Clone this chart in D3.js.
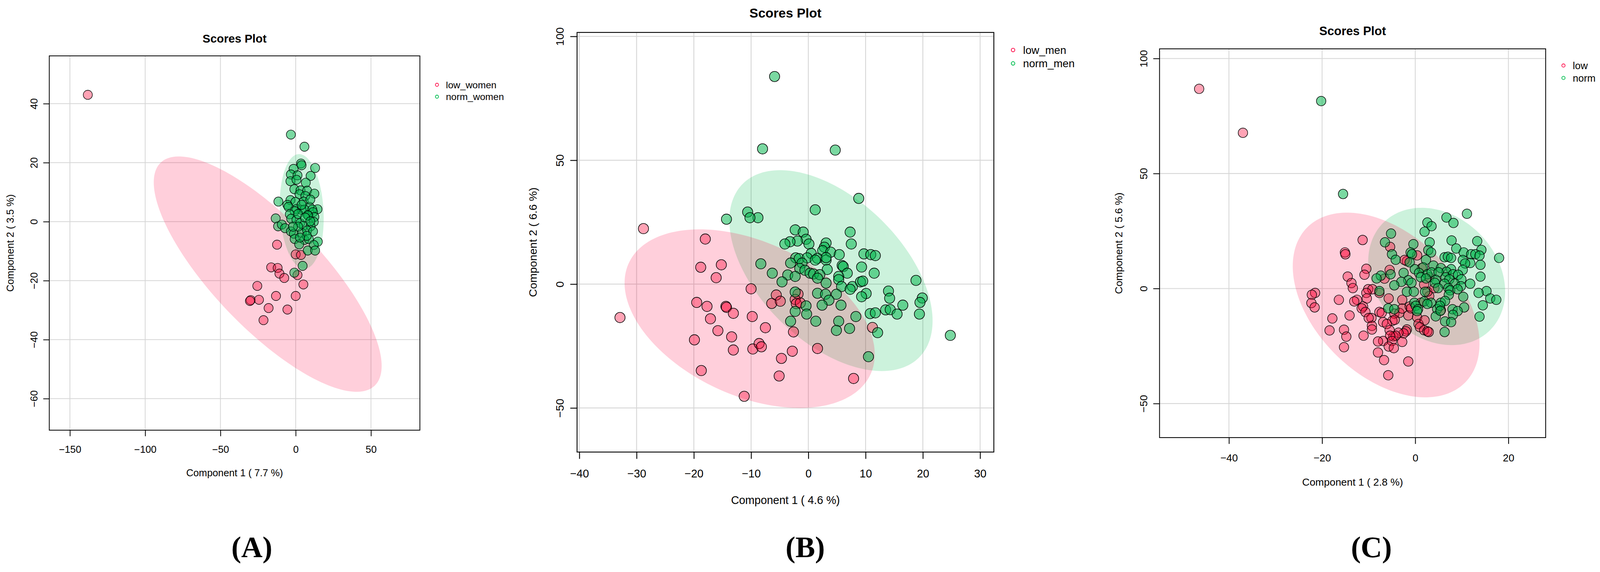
<!DOCTYPE html>
<html>
<head>
<meta charset="utf-8">
<script src="https://cdn.jsdelivr.net/npm/d3@7"></script>
<style>
  html, body { margin: 0; padding: 0; overflow: hidden; background: #fff; }
  svg { display: block; width: 100vw; height: 100vh; }
</style>
</head>
<body>
<svg id="chart" viewBox="0 0 4123 1464" preserveAspectRatio="none"></svg>
<script>
// ---- values ----
const lowWomen = [[-138.1,43.0],[-12.4,-7.8],[0,-11.1],[3.5,-11.3],[-16.3,-15.5],[-12,-15.7],[-10.8,-17.6],
  [-7.6,-19.1],[1.2,-18.1],[5.1,-21.3],[-25.5,-21.8],[-29.9,-26.6],[-30.4,-26.9],[-24.4,-26.5],[-13.1,-25.2],
  [0,-25.2],[-18,-29.3],[-5.5,-29.8],[-21.4,-33.4]];
const normWomen = [[-3.2,29.5],[5.8,25.4],[3.5,19.7],[3.9,19.1],[12.9,18.2],[-1.4,17.9],[-3.2,16],[1.2,15.7],
  [9.9,15.5],[-3.5,13.7],[0.5,14.2],[6.7,13.2],[-0.9,11],[3.2,10.6],[7.6,10.5],[12.4,9.5],[2.5,9.3],[6.4,8.7],
  [-11.5,6.8],[-3.5,7.3],[-0.2,6.7],[5.3,6.8],[-5.5,5.7],[-4.8,5],[9.2,5],[14.5,4.2],[0.5,4.3],[3.9,4],[5.8,4.1],
  [-0.7,3.5],[11,4.1],[11.5,3.2],[-3.9,2.5],[8.5,2],[12.4,1.6],[-13.3,1.1],[-3,1],[0.5,0.6],[8,2.2],[12,-0.1],
  [-11.7,-1.6],[-9.2,-1],[-7.1,-2.2],[3,-0.5],[5.3,-1.4],[9.9,-1.6],[-3.2,-3.3],[-1.2,-4.1],[4.1,-3.8],[7.6,-3],
  [11.5,-3.3],[-0.7,-5.9],[5.8,-6.2],[8.7,-5.9],[14.7,-6.8],[2.3,-7.7],[12,-7.9],[8,-9.8],[12.9,-9.8],[4.6,-15],
  [-0.9,-17.3],[1.6,2.6],[6.2,1.4],[9.7,0.1],[1.6,-1.7],[7.4,-4.8],[2.8,-5.4],[-1.8,-1.7],[3.9,5.7],[9.7,7.5]];

const lowMen = [[-28.8,22.4],[-32.9,-13.5],[-18.0,18.2],[-18.8,6.8],[-15.2,7.8],[-16.1,2.6],[-10.0,-1.9],
  [-19.5,-7.4],[-17.7,-9.0],[-14.4,-9.0],[-14.3,-9.4],[-13.1,-11.8],[-9.8,-13.1],[-17.1,-14.0],[-15.8,-18.8],
  [-19.9,-22.5],[-13.4,-21.3],[-13.1,-26.6],[-9.7,-26.2],[-8.6,-24.0],[-8.2,-25.3],[-7.5,-17.6],[-5.6,-4.4],
  [-6.4,-7.8],[-4.9,-6.9],[-1.8,-4.0],[-2.3,-6.2],[-2.1,-7.9],[-1.4,-7.6],[-2.6,-19.3],[-2.8,-27.1],[-4.7,-30.0],
  [-5.1,-37.1],[-11.2,-45.3],[-18.7,-34.9],[1.6,-26.0],[11.2,-17.5],[7.9,-38.1]];
const normMen = [[-5.9,83.8],[-8.0,54.6],[4.7,54.1],[8.8,34.6],[1.2,30.0],[-10.6,29.1],[-8.8,26.8],[-10.2,26.8],
  [-14.3,26.2],[7.3,21.0],[-2.3,21.9],[-0.9,21.0],[-0.4,18.1],[-1.9,17.4],[-3.2,17.1],[-4.1,16.2],[0.1,16.2],
  [3.1,16.6],[7.5,16.2],[2.8,14.9],[2.5,13.5],[3.9,12.9],[5.4,11.9],[9.7,12.2],[10.9,11.9],[11.7,11.5],[0.5,12.4],
  [-2.2,10.6],[-1.6,10.3],[-0.2,10.6],[1.6,10.4],[1.2,9.7],[3.1,9.7],[3.1,10.7],[-1.1,8.5],[-3.1,8.5],[-8.3,8.2],
  [5.9,7.5],[6.1,7.1],[9.3,6.9],[-1.5,6.3],[-0.6,5.6],[3.3,5.9],[-6.3,4.4],[0.3,4.4],[0.9,4.1],[2.0,3.8],[-3.6,3.7],
  [6.8,4.4],[11.5,4.4],[-2.3,3.1],[1.6,2.4],[5.3,3.1],[5.3,1.8],[-4.6,0.9],[3.1,0.4],[5.8,-1.0],[7.7,-1.0],
  [7.3,-2.1],[9.1,0.9],[9.5,1.2],[18.8,1.5],[-2.3,-3.2],[1.6,-3.7],[3.0,-4.1],[4.9,-4.1],[10.1,-3.8],[9.3,-5.1],
  [14.0,-2.8],[14.2,-5.7],[19.9,-5.6],[19.5,-7.4],[3.6,-6.5],[-0.4,-8.8],[2.4,-8.5],[5.7,-8.5],[16.5,-8.5],
  [-2.3,-11.0],[-0.3,-12.1],[10.8,-11.9],[11.7,-11.6],[13.5,-10.4],[14.3,-10.3],[15.5,-12.1],[19.4,-12.1],
  [-3.1,-15.0],[1.3,-15.0],[5.3,-15.0],[8.3,-13.1],[4.9,-18.7],[7.2,-17.9],[12.1,-19.6],[24.8,-20.7],[10.5,-29.3]];

const lowAll = [[-46.4,86.8],[-37.0,67.7],[-11.3,21.1],[-15.1,15.7],[-15.0,14.9],[-5.4,18.1],[0.4,14.4],
  [-1.8,11.9],[-2.3,12.4],[-10.5,8.6],[-5.5,8.1],[-10.9,6.0],[-14.5,5.2],[-6.6,4.3],[-13.7,2.4],[-13.4,0.2],
  [-21.5,-1.9],[-22.2,-2.7],[-10.1,-0.3],[-9.2,-0.3],[-10.5,-1.9],[-7.7,-1.9],[-16.4,-4.9],[-22.3,-6.3],
  [-21.6,-8.2],[-12.5,-4.9],[-13.1,-5.6],[-10.4,-4.3],[-5.7,-4.3],[-2.8,-4.9],[-11.2,-7.8],[-11.5,-8.6],
  [-10.7,-10.2],[-14.1,-11.7],[-17.8,-13.0],[-9.4,-12.8],[-10.0,-12.8],[-7.7,-10.2],[-7.2,-10.6],[-4.5,-10.9],
  [-3.4,-10.6],[-1.5,-11.7],[-2.8,-8.7],[-9.3,-16.2],[-9.3,-17.8],[-6.9,-14.6],[-4.9,-14.0],[-4.4,-13.6],
  [-6.1,-15.4],[0.4,-12.5],[0.7,-15.4],[2.0,-13.8],[1.0,-16.8],[1.9,-18.1],[2.6,-18.6],[2.9,-18.9],[-1.8,-17.8],
  [-2.0,-18.6],[-2.5,-19.5],[-3.6,-19.2],[-4.7,-20.8],[-4.2,-20.5],[-5.5,-18.1],[-5.4,-20.5],[-2.8,-23.2],
  [-5.0,-22.8],[-6.9,-22.8],[-8.0,-23.0],[-5.7,-25.2],[-4.6,-25.9],[-15.3,-17.9],[-18.4,-18.2],[-14.8,-20.9],
  [-11.1,-20.5],[-15.3,-25.5],[-8.0,-27.8],[-6.7,-31.1],[-1.5,-31.7],[-5.8,-37.7],[-1.2,-7.8],[1.2,-6.2],
  [3.0,-3.3],[2.6,-1.4],[4.1,0.2],[1.9,1.7],[5.5,-9.4],[-0.9,-8.6],[1.4,8.9],[3.0,4.9]];
const normAll = [[-20.2,81.5],[-15.5,41.1],[11.1,32.5],[6.7,30.9],[8.2,28.5],[2.6,28.7],[3.5,27.1],[2.0,24.7],
  [-5.2,23.9],[-6.5,20.1],[7.8,20.9],[13.3,20.6],[3.1,20.1],[-0.4,19.3],[8.8,17.4],[14.2,16.8],[2.8,16.7],
  [3.4,15.7],[10.4,15.7],[12.0,14.9],[12.9,14.9],[-5.0,14.9],[-1.0,15.7],[-0.7,14.9],[18.0,13.3],[6.3,13.6],
  [7.0,13.8],[7.7,13.3],[10.2,12.4],[13.8,14.3],[-4.2,12.5],[2.3,12.5],[-1.2,11.4],[11.8,11.1],[14.0,10.3],
  [10.7,10.9],[3.9,10.0],[1.7,9.2],[5.5,8.9],[-0.1,8.4],[7.7,8.4],[10.2,8.1],[6.7,7.3],[0.8,6.8],[2.6,6.2],
  [3.5,7.0],[5.0,7.1],[8.1,6.2],[9.2,6.0],[-2.5,6.8],[-5.3,6.2],[-7.4,5.6],[-8.3,4.4],[14.0,5.2],[1.2,4.9],
  [2.3,4.4],[4.4,3.8],[6.5,4.9],[7.3,4.0],[9.9,4.0],[-1.5,3.6],[-3.0,2.9],[-0.8,2.5],[-4.5,1.4],[4.2,2.5],
  [6.3,2.1],[8.5,2.1],[11.8,2.1],[9.8,1.0],[7.1,0.2],[4.9,0.2],[7.5,-0.8],[9.1,-0.3],[15.3,-1.1],[13.6,-1.9],
  [-1.8,-1.4],[-0.3,-1.4],[2.1,-1.4],[-7.7,-1.1],[7.2,-2.7],[10.3,-3.6],[16.1,-4.3],[17.4,-4.9],[1.9,-5.6],
  [3.4,-6.2],[2.6,-6.7],[5.5,-6.2],[6.4,-5.4],[-0.2,-6.2],[0.1,-7.5],[0.6,-9.0],[0.4,-9.8],[-5.8,-8.6],
  [-4.5,-9.0],[10.5,-8.2],[14.5,-7.3],[8.0,-9.0],[9.1,-9.8],[4.7,-8.9],[5.3,-7.5],[8.1,-11.4],[4.4,-12.1],
  [13.8,-12.2],[6.4,-14.3],[7.7,-14.6],[6.3,-18.9],[5.4,-9.7]];

// 95% ellipses: [centre x, centre y, half width x, half height y, correlation]
const lowWomenEllipse = [-18.6, -17.8, 75.7, 39.9, -0.78];
const normWomenEllipse = [4.0, 3.45, 14.6, 19.45, -0.12];
const lowMenEllipse = [-10.25, -13.95, 21.85, 36.05, -0.40];
const normMenEllipse = [3.95, 5.45, 17.75, 40.55, -0.5];
const lowEllipse = [-6.25, -7.15, 20.05, 40.15, -0.42];
const normEllipse = [4.6, 5.25, 14.7, 29.85, -0.22];

const xTicksA = [-150, -100, -50, 0, 50];
const yTicksA = [-60, -40, -20, 0, 20, 40];
const xTicksB = [-40, -30, -20, -10, 0, 10, 20, 30];
const yTicksB = [-50, 0, 50, 100];
const xTicksC = [-40, -20, 0, 20];
const yTicksC = [-50, 0, 50, 100];

const xDomainA = [-163.7, 82.5], yDomainA = [-70.7, 56.2];
const xDomainB = [-40.4, 32.4], yDomainB = [-67.8, 101.6];
const xDomainC = [-54.9, 28.0], yDomainC = [-64.8, 104.2];

const xLabels = ['Component 1 ( 7.7 %)', 'Component 1 ( 4.6 %)', 'Component 1 ( 2.8 %)'];
const yLabels = ['Component 2 ( 3.5 %)', 'Component 2 ( 6.6 %)', 'Component 2 ( 5.6 %)'];
const groupNames = [['low_women', 'norm_women'], ['low_men', 'norm_men'], ['low', 'norm']];
const panelLetters = ['(A)', '(B)', '(C)'];

// ---- layout (in the 4123 x 1464 frame of the reference) ----
const layout = [
  { left: 127, top: 143, w: 955, h: 958, s: 1, legendTop: 74, letterX: 649 },
  { left: 1487, top: 83, w: 1074, h: 1074, s: 1.125, legendTop: 40, letterX: 2075 },
  { left: 2988, top: 125, w: 995, h: 995, s: 1.042, legendTop: 41, letterX: 3534 }
];

const panels = [
  { groups: [lowWomen, normWomen], ellipses: [lowWomenEllipse, normWomenEllipse],
    xTicks: xTicksA, yTicks: yTicksA, xDomain: xDomainA, yDomain: yDomainA },
  { groups: [lowMen, normMen], ellipses: [lowMenEllipse, normMenEllipse],
    xTicks: xTicksB, yTicks: yTicksB, xDomain: xDomainB, yDomain: yDomainB },
  { groups: [lowAll, normAll], ellipses: [lowEllipse, normEllipse],
    xTicks: xTicksC, yTicks: yTicksC, xDomain: xDomainC, yDomain: yDomainC }
];

const pointFill = ['rgba(255,0,50,0.36)', 'rgba(0,180,75,0.52)'];
const ellipseFill = ['rgba(255,0,64,0.19)', 'rgba(0,190,80,0.2)'];
const legendColor = ['#ff1450', '#00be50'];
const sans = '"Liberation Sans", Arial, Helvetica, sans-serif';
const pageWidth = 4123, pageHeight = 1464;

const svg = d3.select('#chart');
svg.append('rect').attr('width', pageWidth).attr('height', pageHeight).attr('fill', '#fff');

panels.forEach((p, i) => {
  const L = layout[i];
  const s = L.s;
  const x = d3.scaleLinear().domain(p.xDomain).range([L.left, L.left + L.w]);
  const y = d3.scaleLinear().domain(p.yDomain).range([L.top + L.h, L.top]);
  const g = svg.append('g').attr('class', `panel-${i}`);
  const bottom = L.top + L.h, right = L.left + L.w;

  g.append('clipPath').attr('id', `clip-${i}`)
    .append('rect').attr('x', L.left).attr('y', L.top).attr('width', L.w).attr('height', L.h);

  // grid
  g.append('g').selectAll('line').data(p.xTicks).join('line')
    .attr('x1', d => x(d)).attr('x2', d => x(d))
    .attr('y1', L.top).attr('y2', bottom)
    .attr('stroke', '#d6d6d6').attr('stroke-width', 2 * s);
  g.append('g').selectAll('line').data(p.yTicks).join('line')
    .attr('y1', d => y(d)).attr('y2', d => y(d))
    .attr('x1', L.left).attr('x2', right)
    .attr('stroke', '#d6d6d6').attr('stroke-width', 2 * s);

  const plot = g.append('g').attr('clip-path', `url(#clip-${i})`);

  // confidence ellipses (norm below, low on top)
  const angles = d3.range(0, 2 * Math.PI, Math.PI / 90);
  const ellipseLine = d3.line().curve(d3.curveLinearClosed);
  [1, 0].forEach(k => {
    const [cx, cy, hx, hy, r] = p.ellipses[k];
    const pts = angles.map(t => [
      x(cx + hx * Math.cos(t)),
      y(cy + hy * (r * Math.cos(t) + Math.sqrt(1 - r * r) * Math.sin(t)))
    ]);
    plot.append('path').attr('d', ellipseLine(pts)).attr('fill', ellipseFill[k]);
  });

  // scores
  p.groups.forEach((pts, k) => {
    plot.append('g').selectAll('circle').data(pts).join('circle')
      .attr('cx', d => x(d[0])).attr('cy', d => y(d[1]))
      .attr('r', 11.7 * s)
      .attr('fill', pointFill[k])
      .attr('stroke', '#000').attr('stroke-width', 1.4 * s);
  });

  // box
  g.append('rect').attr('x', L.left).attr('y', L.top).attr('width', L.w).attr('height', L.h)
    .attr('fill', 'none').attr('stroke', '#000').attr('stroke-width', 2 * s);

  // axes
  const xAxis = g.append('g').attr('transform', `translate(0,${bottom})`)
    .call(d3.axisBottom(x).tickValues(p.xTicks).tickSize(15.5 * s).tickSizeOuter(0));
  xAxis.select('.domain').remove();
  xAxis.selectAll('line').attr('stroke-width', 2 * s);
  xAxis.selectAll('text').attr('y', 49 * s).attr('dy', '0.36em')
    .attr('font-size', 25.5 * s).attr('font-family', sans).attr('fill', '#000');

  const yAxis = g.append('g').attr('transform', `translate(${L.left},0)`)
    .call(d3.axisLeft(y).tickValues(p.yTicks).tickSize(15.5 * s).tickSizeOuter(0));
  yAxis.select('.domain').remove();
  yAxis.selectAll('line').attr('stroke-width', 2 * s);
  yAxis.selectAll('text')
    .attr('x', null).attr('dy', '0.36em')
    .attr('transform', `translate(${-40 * s},0) rotate(-90)`)
    .attr('text-anchor', 'middle')
    .attr('font-size', 25.5 * s).attr('font-family', sans).attr('fill', '#000');

  // titles
  g.append('text').text('Scores Plot')
    .attr('x', (L.left + right) / 2).attr('y', L.top - 34 * s)
    .attr('text-anchor', 'middle').attr('font-family', sans)
    .attr('font-weight', 'bold').attr('font-size', 30 * s);
  g.append('text').text(xLabels[i])
    .attr('x', (L.left + right) / 2).attr('y', bottom + 118 * s)
    .attr('text-anchor', 'middle').attr('font-family', sans).attr('font-size', 25.5 * s);
  g.append('text').text(yLabels[i])
    .attr('transform', `translate(${L.left - 92 * s},${(L.top + bottom) / 2}) rotate(-90)`)
    .attr('text-anchor', 'middle').attr('font-family', sans).attr('font-size', 25.5 * s);

  // legend
  const leg = g.append('g').selectAll('g').data(groupNames[i]).join('g')
    .attr('transform', (d, k) => `translate(${right},${L.top + (L.legendTop + k * 30.5) * s})`);
  leg.append('circle').attr('cx', 44 * s).attr('r', 4 * s)
    .attr('fill', 'none').attr('stroke', (d, k) => legendColor[k]).attr('stroke-width', 1.8 * s);
  const legText = leg.append('text').text(d => d).attr('x', 67 * s).attr('dy', '0.36em')
    .attr('font-family', sans).attr('font-size', 24.7 * s);
  // keep the legend inside the frame if the font runs wide
  legText.each(function() {
    const room = pageWidth - 6 - (right + 67 * s);
    const len = this.getComputedTextLength();
    if (len > room) d3.select(this).attr('textLength', room).attr('lengthAdjust', 'spacingAndGlyphs');
  });

  // panel letter
  svg.append('text').text(panelLetters[i])
    .attr('x', L.letterX).attr('y', 1426)
    .attr('text-anchor', 'middle')
    .attr('font-family', '"Liberation Serif", "Times New Roman", serif')
    .attr('font-weight', 'bold').attr('font-size', 76);
});
</script>
</body>
</html>
